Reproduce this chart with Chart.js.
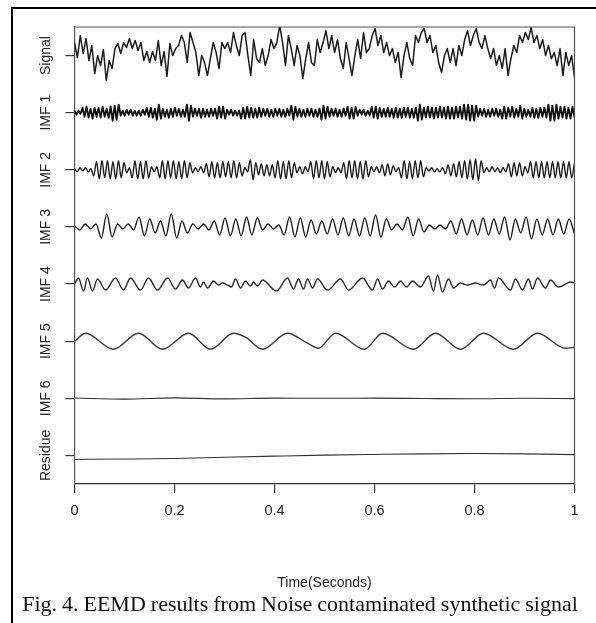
<!DOCTYPE html>
<html>
<head>
<meta charset="utf-8">
<script src="https://cdn.jsdelivr.net/npm/chart.js@4.4.1/dist/chart.umd.min.js"></script>
<style>
  html, body { margin: 0; padding: 0; background: #fff; }
  #wrap { position: relative; width: 596px; height: 623px; overflow: hidden; }
  #c { position: absolute; left: 0; top: 0; }
  #frameL { position: absolute; left: 11px; top: 7px; width: 2px; height: 616px; background: #000; }
  #frameT { position: absolute; left: 11px; top: 7px; width: 585px; height: 2px; background: #000; }
  #caption { position: absolute; left: 0; width: 600px; top: 591px; text-align: center;
             font-family: "Liberation Serif", "Times New Roman", serif; font-size: 22px;
             word-spacing: -0.5px; color: #111; white-space: nowrap; }
</style>
</head>
<body>
<div id="wrap">
  <canvas id="c" width="596" height="623"></canvas>
  <div id="frameL"></div>
  <div id="frameT"></div>
  <div id="caption">Fig. 4. EEMD results from Noise contaminated synthetic signal</div>
</div>
<script>
// ---------------- data (amplitudes) ----------------
const rowNames = ['Signal', 'IMF 1', 'IMF 2', 'IMF 3', 'IMF 4', 'IMF 5', 'IMF 6', 'Residue'];
const xTickValues = [0, 0.2, 0.4, 0.6, 0.8, 1];
const xTickLabels = ['0', '0.2', '0.4', '0.6', '0.8', '1'];
const xTitle = 'Time(Seconds)';

// evenly sampled over 0..1 s
const signal = [
  13, -2, 20, 2, 17, -5, 10, -18, 0, -10, 6, -25, -5, -13, 7, 12, 2, 13, 8, 17,
  7, 15, 5, 13, -5, 4, -7, 4, -5, 15, -10, 4, -21, 12, 0,
  7, 10, 20, 13, -7, 23, 13, 3, -20, 0, -7, -20, -3, 13, 3, -13, 13, 7, 13, 3,
  23, 10, 0, 20, 23, 0, -20, 16, -3, -7, 7, -10, 0, 16, 7, 13, 30, 13, -10, 20,
  7, -10, 10, 0, -23, -3, 13, -7, -10, 16, 3, 13, 25, 7, 20, 3, 16, -3, -13, 13,
  -3, -20, 0, 16, -3, 23, 3,
  7, 20, 27, 10, 20, 3, 13, 0, 7, -7, 3, -22, 0, 13, -3, -10, 20, 13, 23, 27,
  13, 20, 3, 10, -7, -17, 0, 7, -7, 7, -10, 10, 0, 16, 25, 10, 20, 27, 13, 7,
  20, 7, -3, 7, -10, 0, -13, 7, -20, -3, 10, 3, 20, 13, 23, 16, 28, 13, 20, 7,
  16, 0, 10, -3, 3, -10, 7, -20, 3, -10, 0, -22
];

const imf1 = [
  2, -2, 2, -1,
  5, -4, 6, -5, 4, -6, 5, -4, 5, -5, 6, -4, 4, -5, 6,
  -8, 7, -7, 8,
  -3, 2, -3, 3, -2, 3, -3, 2, -3, 2, -3, 3, -2,
  5, -4, 5, -5, 4,
  -7, 8, -6,
  4, -4, 3, -5, 4, -4, 5, -3, 4, -4, 3, -4,
  8, -8, 7,
  -4, 4, -3, 4, -5, 4, -4, 3, -4, 4, -3, 4,
  -6, 6, -5, 6, -6,
  3, -2, 3, -3, 2, -3, 2,
  -6, 5, -6, 6, -5,
  5, -5, 4, -5, 5,
  -4, 4, -3, 4, -4, 3, -4, 4, -3, 4, -4, 3, -4, 4, -3,
  7, -7, 6,
  -4, 4, -4, 3, -4, 4, -3, 4, -4, 3, -4, 4,
  -7, 7, -6, 6,
  -4, 4, -3, 4, -4, 3, -4, 4, -3,
  6, -6, 5, -6, 6,
  -3, 3, -2, 3, -3, 2, -3,
  6, -5, 6, -6, 5,
  -4, 4, -4, 5, -4, 4, -5,
  5, -5, 4, -5, 5, -4, 5, -5, 4, -5, 5,
  -8, 8, -7,
  5, -5, 6, -5, 5, -6, 5, -5, 6, -5, 5, -6,
  6, -6, 5, -6, 6, -5, 6, -6,
  8, -7, 8, -8, 7, -8, 7,
  -4, 4, -3, 4, -4, 3, -4, 4, -3, 4, -4, 3,
  -6, 6, -6, 5,
  -4, 6, -5, 4, -4, 7, -6, 4, -4, 3, -4,
  5, -5, 4, -5, 5, -4, 5, -5,
  8, -8, 7, -8, 8,
  -6, 6, -5, 6, -6, 5, -6, 6, -5
];

const imf2 = [
  1, -2, 2, -1, 2, -2, 1,
  -6, 8, -9, 9, -8, 9, -9, 8, -9, 9, -8, 7,
  -3, 2,
  -8, 9, -9, 8, -9, 9, -8,
  3, -2, 3,
  -8, 9, -9, 9, -8, 9, -9, 8, -9, 9, -8, 7,
  -3, 2, -2, 3, -3,
  6, -7, 8, -8, 7, -8, 8, -7, 8, -8, 9, -8, 7, -6,
  2, -2,
  10, -10, 7,
  -5, 6, -6, 5, -6, 5,
  -8, 9, -9, 8, -9, 9, -8, 7,
  -3, 3, -4, 3, -2,
  8, -9, 9, -8, 9, -9, 8, -7,
  3, -3, 2, -3,
  7, -9, 9, -8, 9, -9, 8, -9, 9, -7,
  3, -2, 3, -3,
  5, -6, 6, -5, 4,
  -2, 2,
  -8, 9, -9, 8, -9, 9, -8, 9, -7,
  2, -1, 2, -2, 1, -2, 2,
  -4, 5, -6, 6, -7, 8, -8, 9, -9, 10, -10, 11, -11, 9,
  -3, 2, -2, 3, -2, 2, -3, 2, -2,
  6, -7, 7, -6, 7, -6,
  3, -3,
  8, -8, 8, -8, 8, -8, 8, -8, 8, -8, 8, -8, 8, -8, 8, -8, 7
];

const imf3 = [
  1, -3, 3, -2, 3,
  -11, 13, -10,
  3, -2, 3, -3,
  10, -9, 8,
  -6, 6,
  -9, 13, -11,
  6, -6,
  3, -2, 3, -3,
  6, -8, 9, -9, 8, -9, 10, -8, 9,
  -3, 3, -2, 2,
  -8, 10, -10, 9, -10,
  7, -7, 6, -7,
  8, -8, 9, -9, 8, -9, 9, -9,
  12, -10, 8,
  -3, 3, -3,
  10, -9, 8,
  -5,
  2, -2, 2, -2,
  6, -7, 8, -8, 7, -8, 9, -8, 8, -7,
  10, -13, 8,
  -6, 10, -12, 8,
  -8, 8, -8, 8, -7, 8, -7
];

// sampled at the turning points (seconds)
const imf4Time = [
  0, 0.008, 0.018, 0.026, 0.036, 0.046, 0.062, 0.082, 0.098, 0.112,
  0.132, 0.148, 0.166, 0.186, 0.202, 0.216, 0.228, 0.242, 0.252, 0.258,
  0.266, 0.278, 0.288, 0.296, 0.306, 0.314, 0.322, 0.332, 0.342, 0.352,
  0.358, 0.366, 0.376, 0.404, 0.426, 0.438, 0.448, 0.458, 0.466, 0.476,
  0.486, 0.506, 0.532, 0.548, 0.576, 0.596, 0.606, 0.616, 0.628, 0.64,
  0.652, 0.664, 0.676, 0.692, 0.708, 0.718, 0.726, 0.736, 0.748, 0.758,
  0.772, 0.786, 0.802, 0.818, 0.832, 0.84, 0.848, 0.872, 0.882, 0.896,
  0.908, 0.916, 0.926, 0.942, 0.952, 0.968, 0.992, 1
];
const imf4 = [
  0, 6, -7, 6, -7, 5, -6, 6, -6, 6,
  -6, 6, -6, 6, -5, 4, -4, 6, -3, 2,
  -4, 3, -1, 1, -1, -3, 5, -4, 3, -2,
  2, -2, 4, -7, 6, -5, 5, -5, 5, -4,
  5, -6, 5, -6, 6, -6, 5, -5, 3, -3,
  3, -3, 3, -3, 8, -7, 9, -8, 5, -4,
  1, -1, 1, -1, 4, -4, 6, -6, 5, -6,
  5, -5, 6, -4, 4, -3, 2, 1
];

const imf5Time = [
  0, 0.022, 0.078, 0.128, 0.176, 0.228, 0.272, 0.318, 0.342, 0.376,
  0.426, 0.466, 0.488, 0.522, 0.58, 0.616, 0.678, 0.722, 0.772, 0.818,
  0.878, 0.926, 0.982, 1
];
const imf5 = [
  0, 8, -8, 8, -8, 8, -8, 8, 4, -8,
  8, -2, -7, 8, -8, 8, -8, 8, -8, 8,
  -8, 8, -7, -6
];

const imf6 = [0.3, -0.8, 0.4, -0.6, 0.2, 0, 0.2, -0.2, -0.5, 0.1, -0.3];
const residue = [-4, -3.6, -3, -1.8, -0.7, 0.3, 1, 1.6, 1.9, 1.6, 0.8];

// ---------------- build ----------------
const GAIN = 1 / 57.125;   // amplitude units per panel height
const centre = r => 7 - r; // panel r centre on the y scale
function even(vals, r) {
  const n = vals.length;
  return vals.map((v, i) => ({ x: i / (n - 1), y: centre(r) + v * GAIN }));
}
function timed(ts, vals, r) {
  return ts.map((t, i) => ({ x: t, y: centre(r) + vals[i] * GAIN }));
}
const LINE = '#1c1c1c';
function ds(data, smooth, width, color) {
  return {
    data, borderColor: color || LINE, borderWidth: width || 1.4,
    pointRadius: 0, fill: false,
    cubicInterpolationMode: smooth ? 'monotone' : 'default', tension: 0,
    borderJoinStyle: 'round'
  };
}
const datasets = [
  ds(even(signal, 0), false, 1.5),
  ds(even(imf1, 1), false, 1.9, '#111'),
  ds(even(imf2, 2), true, 1.4),
  ds(even(imf3, 3), true, 1.4),
  ds(timed(imf4Time, imf4, 4), true, 1.4, '#2a2a2a'),
  ds(timed(imf5Time, imf5, 5), true, 1.4, '#3a3a3a'),
  ds(even(imf6, 6), true, 1.1, '#333'),
  ds(even(residue, 7), true, 1.1, '#333')
];

const FONT = '"Liberation Sans", Arial, sans-serif';

const decor = {
  id: 'decor',
  beforeDraw(chart) {
    const c = chart.ctx;
    c.save();
    c.fillStyle = '#fff';
    c.fillRect(0, 0, chart.width, chart.height);
    c.restore();
  },
  afterDraw(chart) {
    const c = chart.ctx, a = chart.chartArea;
    c.save();
    // box top and right
    c.strokeStyle = '#555';
    c.lineWidth = 1.2;
    c.beginPath();
    c.moveTo(a.left, a.top);
    c.lineTo(a.right, a.top);
    c.lineTo(a.right, a.bottom);
    c.stroke();
    // panel names
    const ys = chart.scales.y;
    c.fillStyle = '#222';
    c.font = '14px ' + FONT;
    c.textAlign = 'center';
    c.textBaseline = 'middle';
    rowNames.forEach((name, r) => {
      const py = ys.getPixelForValue(centre(r));
      c.save();
      c.translate(46, py);
      c.rotate(-Math.PI / 2);
      c.fillText(name, 0, 0);
      c.restore();
    });
    c.restore();
  }
};

new Chart(document.getElementById('c'), {
  type: 'line',
  data: { datasets },
  options: {
    responsive: false,
    animation: false,
    devicePixelRatio: 1,
    layout: { padding: { left: 0, right: 21.5, top: 27, bottom: 0 } },
    plugins: { legend: { display: false }, tooltip: { enabled: false } },
    scales: {
      x: {
        type: 'linear', min: 0, max: 1,
        afterBuildTicks: s => { s.ticks = xTickValues.map(v => ({ value: v })); },
        ticks: {
          autoSkip: false, maxRotation: 0, padding: 9, color: '#222',
          font: { family: FONT, size: 14.5 },
          callback: (v, i) => xTickLabels[i]
        },
        grid: { drawOnChartArea: false, drawTicks: true, tickLength: 9, color: '#333', lineWidth: 1.2 },
        border: { display: true, color: '#333', width: 1.2 },
        title: {
          display: true, text: xTitle, color: '#222',
          font: { family: FONT, size: 14 },
          padding: { top: 0, bottom: 31 }
        },
        afterFit: s => { s.height = 139; }
      },
      y: {
        type: 'linear', min: -0.5, max: 7.5,
        afterBuildTicks: s => { s.ticks = rowNames.map((n, r) => ({ value: centre(r) })); },
        ticks: { display: false },
        grid: { drawOnChartArea: false, drawTicks: true, tickLength: 9, color: '#333', lineWidth: 1.2 },
        border: { display: true, color: '#555', width: 1.2 },
        afterFit: s => { s.width = 74.5; }
      }
    }
  },
  plugins: [decor]
});
</script>
</body>
</html>
